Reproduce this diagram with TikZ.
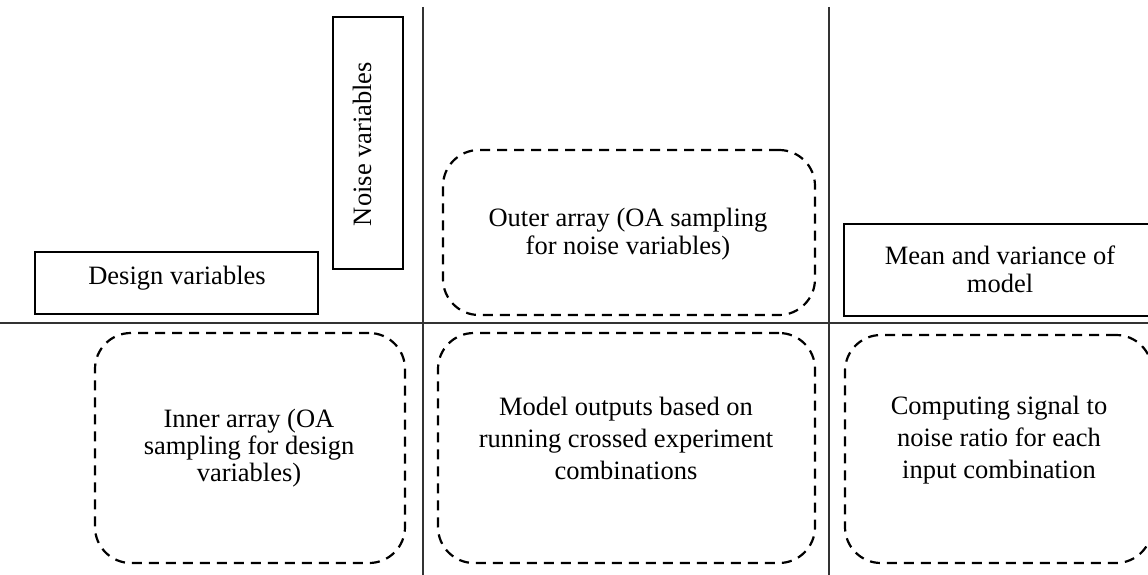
\documentclass[tikz,border=0pt]{standalone}
\usepackage{fontspec}
\setmainfont{Liberation Serif}
\begin{document}
\begin{tikzpicture}[x=1pt,y=-1pt,
  solidbox/.style={draw, line width=2.2pt, rectangle, inner sep=0pt},
  dashbox/.style={draw, line width=2.2pt, dash pattern=on 10pt off 7pt, rounded corners=36pt, rectangle, inner sep=0pt},
  lbl/.style={align=center, inner sep=0pt},
  gridline/.style={line width=1.2pt, black!80}]
\useasboundingbox (0,0) rectangle (1148,575);
% grid
\coordinate (v1t) at (423,7);
\coordinate (v1b) at (423,575);
\coordinate (v2t) at (829,7);
\coordinate (v2b) at (829,575);
\coordinate (hl) at (0,323);
\coordinate (hr) at (1148,323);
\draw[gridline] (v1t) -- (v1b);
\draw[gridline] (v2t) -- (v2b);
\draw[gridline] (hl) -- (hr);
% solid boxes
\node[solidbox, minimum width=283pt, minimum height=62pt] (designbox) at (176.5,283) {};
\node[solidbox, minimum width=70pt, minimum height=252pt] (noisebox) at (368,143) {};
\node[solidbox, minimum width=308pt, minimum height=92pt] (meanbox) at (998,270) {};
% dashed boxes
\node[dashbox, minimum width=372pt, minimum height=165pt] (outerbox) at (629,232.5) {};
\node[dashbox, minimum width=310pt, minimum height=230pt] (innerbox) at (250,448) {};
\node[dashbox, minimum width=377pt, minimum height=230pt] (modelbox) at (626.5,448) {};
\node[dashbox, minimum width=307pt, minimum height=228pt] (compbox) at (998.5,449) {};
% labels
\node[lbl, font=\fontsize{26.5}{28}\selectfont] (designtxt) at (177,278) {Design variables};
\node[lbl, font=\fontsize{26.5}{28}\selectfont, rotate=90] (noisetxt) at (362,144) {Noise variables};
\node[lbl, font=\fontsize{26.5}{28}\selectfont] (outertxt) at (628,234) {Outer array (OA sampling\\for noise variables)};
\node[lbl, font=\fontsize{26.5}{28}\selectfont] (meantxt) at (1000,269) {Mean and variance of\\model};
\node[lbl, font=\fontsize{26.5}{27}\selectfont] (innertxt) at (249,448) {Inner array (OA\\sampling for design\\variables)};
\node[lbl, font=\fontsize{26.5}{32}\selectfont] (modeltxt) at (626,438) {Model outputs based on\\running crossed experiment\\combinations};
\node[lbl, font=\fontsize{26.5}{32}\selectfont] (comptxt) at (999,440) {Computing signal to\\noise ratio for each\\input combination};
\end{tikzpicture}
\end{document}
